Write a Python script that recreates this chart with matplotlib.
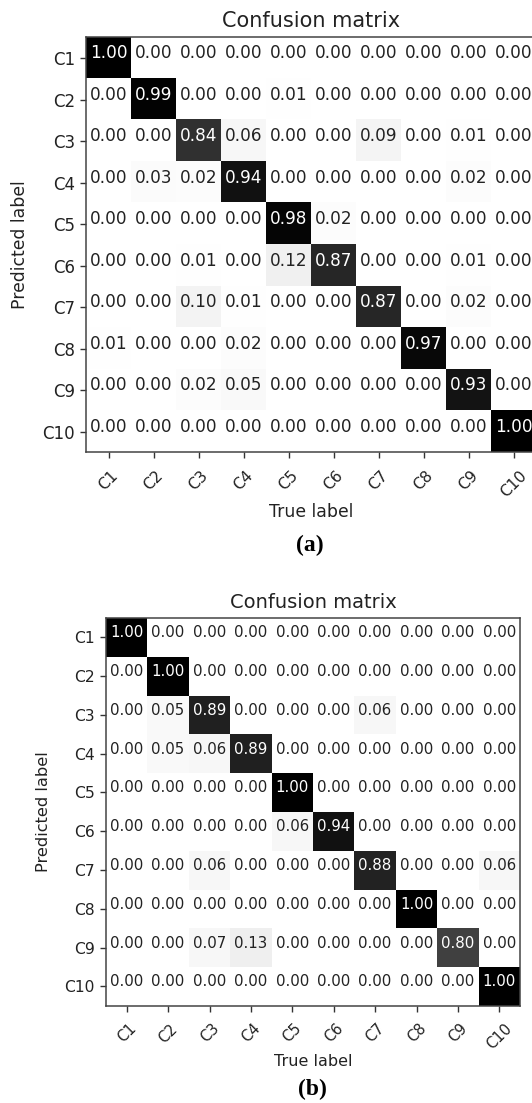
import numpy as np
import matplotlib
matplotlib.use("Agg")
import matplotlib.pyplot as plt

plt.rcParams["font.family"] = ["DejaVu Sans"]

classes = ["C1", "C2", "C3", "C4", "C5", "C6", "C7", "C8", "C9", "C10"]

cm_a = [
    [1.00, 0.00, 0.00, 0.00, 0.00, 0.00, 0.00, 0.00, 0.00, 0.00],
    [0.00, 0.99, 0.00, 0.00, 0.01, 0.00, 0.00, 0.00, 0.00, 0.00],
    [0.00, 0.00, 0.84, 0.06, 0.00, 0.00, 0.09, 0.00, 0.01, 0.00],
    [0.00, 0.03, 0.02, 0.94, 0.00, 0.00, 0.00, 0.00, 0.02, 0.00],
    [0.00, 0.00, 0.00, 0.00, 0.98, 0.02, 0.00, 0.00, 0.00, 0.00],
    [0.00, 0.00, 0.01, 0.00, 0.12, 0.87, 0.00, 0.00, 0.01, 0.00],
    [0.00, 0.00, 0.10, 0.01, 0.00, 0.00, 0.87, 0.00, 0.02, 0.00],
    [0.01, 0.00, 0.00, 0.02, 0.00, 0.00, 0.00, 0.97, 0.00, 0.00],
    [0.00, 0.00, 0.02, 0.05, 0.00, 0.00, 0.00, 0.00, 0.93, 0.00],
    [0.00, 0.00, 0.00, 0.00, 0.00, 0.00, 0.00, 0.00, 0.00, 1.00],
]

cm_b = [
    [1.00, 0.00, 0.00, 0.00, 0.00, 0.00, 0.00, 0.00, 0.00, 0.00],
    [0.00, 1.00, 0.00, 0.00, 0.00, 0.00, 0.00, 0.00, 0.00, 0.00],
    [0.00, 0.05, 0.89, 0.00, 0.00, 0.00, 0.06, 0.00, 0.00, 0.00],
    [0.00, 0.05, 0.06, 0.89, 0.00, 0.00, 0.00, 0.00, 0.00, 0.00],
    [0.00, 0.00, 0.00, 0.00, 1.00, 0.00, 0.00, 0.00, 0.00, 0.00],
    [0.00, 0.00, 0.00, 0.00, 0.06, 0.94, 0.00, 0.00, 0.00, 0.00],
    [0.00, 0.00, 0.06, 0.00, 0.00, 0.00, 0.88, 0.00, 0.00, 0.06],
    [0.00, 0.00, 0.00, 0.00, 0.00, 0.00, 0.00, 1.00, 0.00, 0.00],
    [0.00, 0.00, 0.07, 0.13, 0.00, 0.00, 0.00, 0.00, 0.80, 0.00],
    [0.00, 0.00, 0.00, 0.00, 0.00, 0.00, 0.00, 0.00, 0.00, 1.00],
]

W, H = 532, 1103
fig = plt.figure(figsize=(W / 100, H / 100), dpi=100)


def px_axes(x0, y0, x1, y1):
    return fig.add_axes([x0 / W, 1 - y1 / H, (x1 - x0) / W, (y1 - y0) / H])


def draw(ax, cm, cell_fs, ytick_fs, xtick_fs, xpad):
    cm = np.array(cm)
    ax.imshow(cm, cmap="Greys", vmin=0, vmax=1, aspect="auto",
              interpolation="nearest")
    n = len(classes)
    ax.set_xticks(range(n))
    ax.set_yticks(range(n))
    ax.set_xticklabels(classes, rotation=45, fontsize=xtick_fs, color="#222222")
    ax.set_yticklabels(classes, fontsize=ytick_fs, color="#222222")
    ax.tick_params(length=4.5, width=1.0, color="#333333")
    ax.tick_params(axis="x", pad=xpad)
    for s in ax.spines.values():
        s.set_color("#444444")
        s.set_linewidth(1.1)
    thresh = cm.max() / 2.0
    for i in range(n):
        for j in range(n):
            ax.text(j, i, "%.2f" % cm[i, j], ha="center", va="baseline",
                    fontsize=cell_fs,
                    color="white" if cm[i, j] > thresh else "#222222")


# Panel (a)
ax1 = px_axes(86, 37.3, 536, 452.3)
draw(ax1, cm_a, 12.2, 12, 11.2, 6.5)
fig.text(311 / W, 1 - 21 / H, "Confusion matrix", ha="center", va="center",
         fontsize=15, color="#222222")
fig.text(311 / W, 1 - 512 / H, "True label", ha="center", va="center",
         fontsize=12.4, color="#222222")
fig.text(20 / W, 1 - 245 / H, "Predicted label", ha="center", va="center",
         rotation=90, fontsize=12.4, color="#222222")
fig.text(310 / W, 1 - 545 / H, "(a)", ha="center", va="center",
         fontsize=17, fontweight="bold", family="Liberation Serif")

# Panel (b)
ax2 = px_axes(106, 617.7, 520, 1005.7)
draw(ax2, cm_b, 10.8, 11.2, 10.6, 6.5)
fig.text(313 / W, 1 - 602 / H, "Confusion matrix", ha="center", va="center",
         fontsize=14, color="#222222")
fig.text(313 / W, 1 - 1062 / H, "True label", ha="center", va="center",
         fontsize=11.5, color="#222222")
fig.text(44 / W, 1 - 812 / H, "Predicted label", ha="center", va="center",
         rotation=90, fontsize=11.7, color="#222222")
fig.text(312 / W, 1 - 1089 / H, "(b)", ha="center", va="center",
         fontsize=17, fontweight="bold", family="Liberation Serif")

fig.savefig("out.png", dpi=100, facecolor="white")
